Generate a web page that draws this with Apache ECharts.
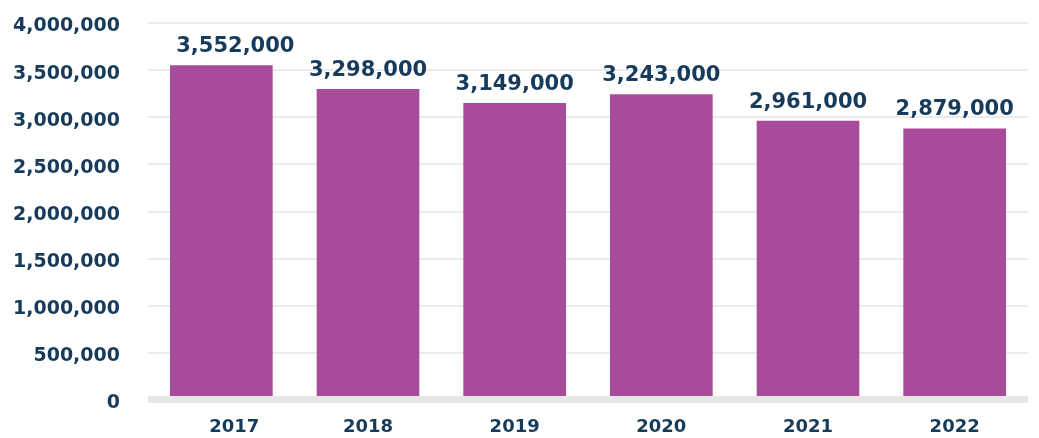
<!DOCTYPE html>
<html>
<head>
<meta charset="utf-8">
<script src="https://cdn.jsdelivr.net/npm/echarts@6/dist/echarts.min.js"></script>
<style>
  html, body { margin: 0; padding: 0; background: #ffffff; }
  #chart { width: 1039px; height: 438px; }
</style>
</head>
<body>
<div id="chart"></div>
<script>
// Yearly totals
const years = ['2017', '2018', '2019', '2020', '2021', '2022'];
const totals = [3552000, 3298000, 3149000, 3243000, 2961000, 2879000];
const yTicks = [0, 500000, 1000000, 1500000, 2000000, 2500000, 3000000, 3500000, 4000000];

const TEXT = '#173b5b';
const FONT = '"DejaVu Sans", sans-serif';
const fmt = v => v.toLocaleString('en-US');

const chart = echarts.init(document.getElementById('chart'), null, { renderer: 'canvas' });

chart.setOption({
  animation: false,
  backgroundColor: '#ffffff',
  grid: { left: 148, right: 11, top: 23, bottom: 38.5, containLabel: false },
  xAxis: {
    type: 'category',
    data: years,
    z: 3,
    axisTick: { show: false },
    axisLine: { show: true, lineStyle: { color: '#e6e6e6', width: 7, cap: 'butt' } },
    axisLabel: {
      color: TEXT, fontFamily: FONT, fontWeight: 'bold', fontSize: 18, margin: 19,
      formatter: (v, i) => i === 0 ? '{f|' + v + '}' : v,
      rich: { f: { color: TEXT, fontFamily: FONT, fontWeight: 'bold', fontSize: 18, padding: [0, 0, 0, 26] } }
    }
  },
  yAxis: {
    type: 'value',
    min: yTicks[0],
    max: yTicks[yTicks.length - 1],
    interval: yTicks[1] - yTicks[0],
    axisLine: { show: false },
    axisTick: { show: false },
    splitLine: { lineStyle: { color: '#ebebeb', width: 2 } },
    axisLabel: {
      color: TEXT, fontFamily: FONT, fontWeight: 'bold', fontSize: 19, margin: 28,
      formatter: v => '{t|' + fmt(v) + '}',
      rich: { t: { color: TEXT, fontFamily: FONT, fontWeight: 'bold', fontSize: 19, padding: [7, 0, 0, 0] } }
    }
  },
  series: [{
    type: 'bar',
    barWidth: '70%',
    itemStyle: { color: '#a84b9b' },
    z: 1,
    data: totals.map((v, i) => i === 0
      ? { value: v, label: { offset: [14, 0] } }
      : v),
    label: {
      show: true,
      position: 'top',
      distance: 8,
      color: TEXT,
      fontFamily: FONT,
      fontWeight: 'bold',
      fontSize: 21,
      formatter: p => fmt(p.value)
    }
  }]
});
</script>
</body>
</html>
